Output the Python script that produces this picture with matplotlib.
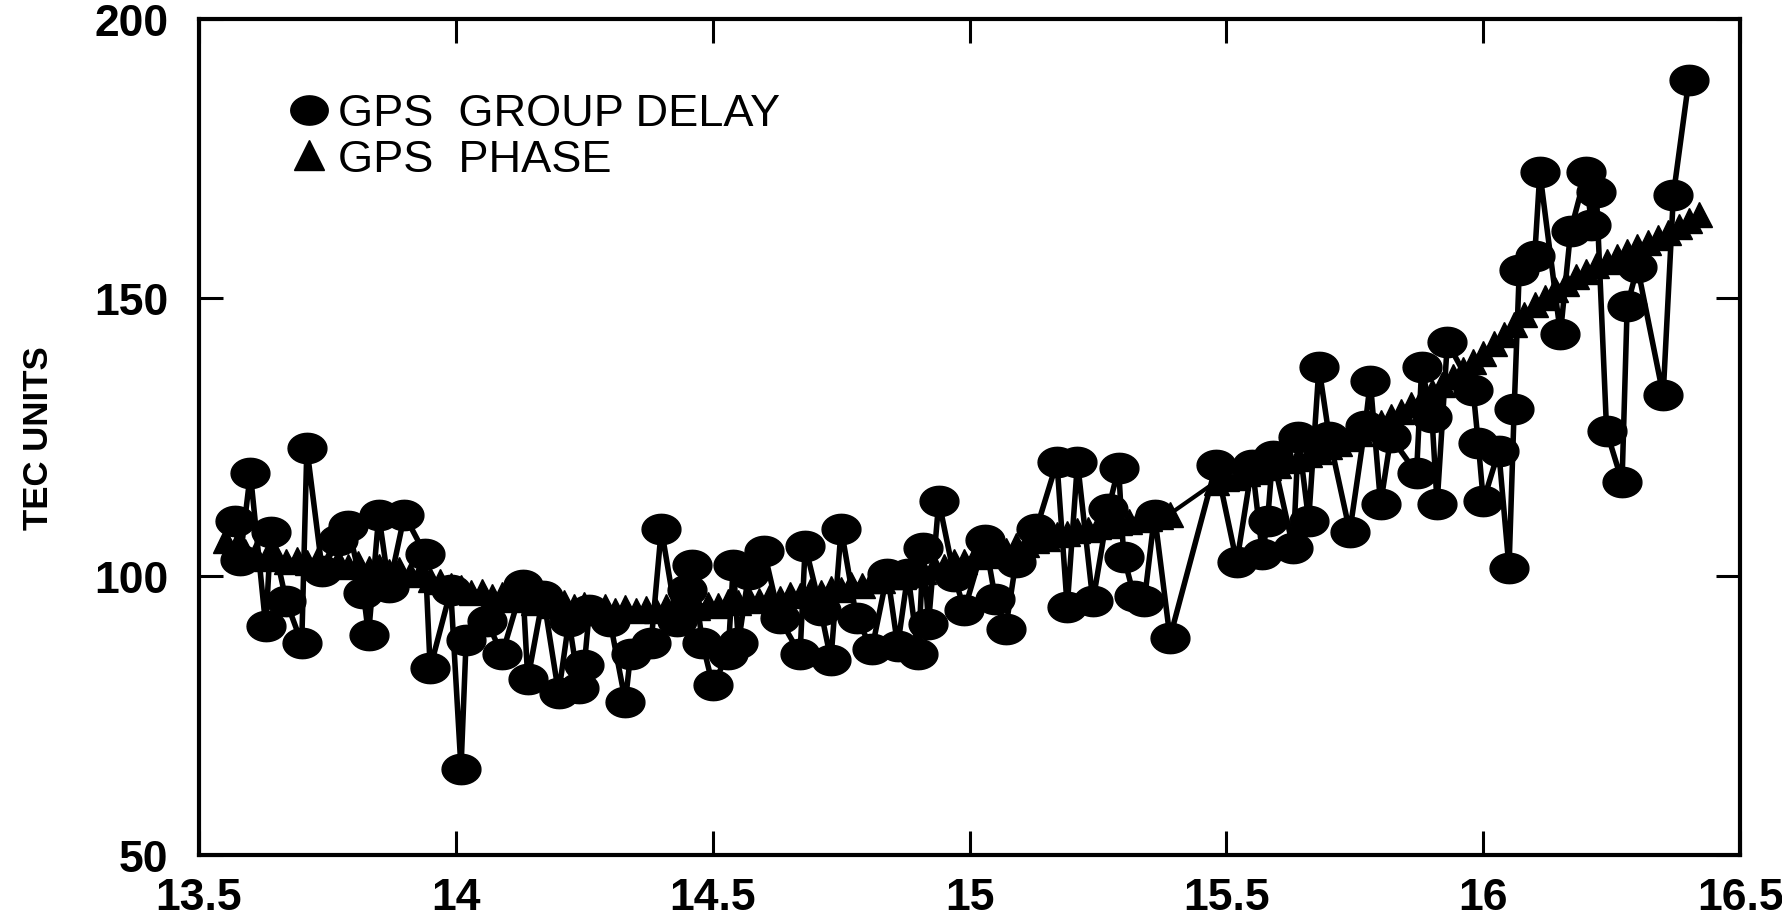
# TEC from GPS group delay and phase - recreated chart

import numpy as np
import matplotlib.pyplot as plt
from matplotlib.lines import Line2D

# group delay samples (hours, TEC units)
delay_time = [13.57, 13.58, 13.60, 13.63, 13.64, 13.67, 13.70, 13.71, 13.74, 13.77,
              13.79, 13.82, 13.83, 13.85, 13.87, 13.90, 13.94, 13.95, 13.99, 14.01,
              14.02, 14.06, 14.09, 14.13, 14.14, 14.17, 14.20, 14.22, 14.24, 14.25,
              14.26, 14.30, 14.33, 14.34, 14.38, 14.40, 14.43, 14.45, 14.46, 14.48,
              14.50, 14.53, 14.54, 14.55, 14.57, 14.60, 14.63, 14.67, 14.68, 14.71,
              14.73, 14.75, 14.78, 14.81, 14.84, 14.86, 14.88, 14.90, 14.91, 14.92,
              14.94, 14.97, 14.99, 15.03, 15.05, 15.07, 15.09, 15.13, 15.17, 15.19,
              15.21, 15.24, 15.27, 15.29, 15.30, 15.32, 15.34, 15.36, 15.39, 15.48,
              15.52, 15.55, 15.57, 15.58, 15.59, 15.63, 15.64, 15.66, 15.68, 15.70,
              15.74, 15.77, 15.78, 15.80, 15.82, 15.87, 15.88, 15.90, 15.91, 15.93,
              15.98, 15.99, 16.00, 16.03, 16.05, 16.06, 16.07, 16.10, 16.11, 16.15,
              16.17, 16.20, 16.21, 16.22, 16.24, 16.27, 16.28, 16.30, 16.35, 16.37,
              16.40]
delay_tec = [110, 103, 118.5, 91, 108, 95.5, 88, 123, 101, 106.5,
             109, 97, 89.5, 111, 98, 111, 104, 83.5, 97.5, 65.5,
             88.5, 92, 86, 98.5, 81.5, 96.5, 79, 92, 80, 84,
             94, 92, 77.5, 86, 88, 108.5, 92, 97.5, 102, 88,
             80.5, 86, 102, 88, 100.5, 104.5, 92.5, 86, 105.5, 94,
             85, 108.5, 92.5, 87, 100.5, 87.5, 100.5, 86, 105, 91.5,
             113.5, 100, 94, 106.5, 96, 90.5, 102.5, 108.5, 120.5, 94.5,
             120.5, 95.5, 112, 119.5, 103.5, 96.5, 95.5, 111, 89, 120,
             102.5, 120, 104, 110, 121.5, 105, 125, 110, 137.5, 125,
             108, 127, 135, 113, 125, 118.5, 137.5, 128.5, 113, 142,
             133.5, 124, 113.5, 122.5, 101.5, 130, 155, 157.5, 172.5, 143.5,
             162, 172.5, 163, 169, 126, 117, 148.5, 155.5, 132.5, 168.5,
             189]

# carrier phase samples (hours, TEC units)
phase_time = [13.55, 13.57, 13.59, 13.61, 13.63, 13.65, 13.67, 13.69, 13.71, 13.73,
              13.75, 13.77, 13.79, 13.81, 13.83, 13.85, 13.87, 13.89, 13.91, 13.93,
              13.95, 13.97, 13.99, 14.01, 14.03, 14.05, 14.07, 14.09, 14.11, 14.13,
              14.15, 14.17, 14.19, 14.21, 14.23, 14.25, 14.27, 14.29, 14.31, 14.33,
              14.35, 14.37, 14.39, 14.41, 14.43, 14.45, 14.47, 14.49, 14.51, 14.53,
              14.55, 14.57, 14.59, 14.61, 14.63, 14.65, 14.67, 14.69, 14.71, 14.73,
              14.75, 14.77, 14.79, 14.81, 14.83, 14.85, 14.87, 14.89, 14.91, 14.93,
              14.95, 14.97, 14.99, 15.01, 15.03, 15.05, 15.07, 15.09, 15.11, 15.13,
              15.15, 15.17, 15.19, 15.21, 15.23, 15.25, 15.27, 15.29, 15.31, 15.33,
              15.35, 15.37, 15.39,
              15.48, 15.50, 15.52, 15.54, 15.56, 15.58, 15.60, 15.62, 15.64, 15.66,
              15.68, 15.70, 15.72, 15.74, 15.76, 15.78, 15.80, 15.82, 15.84, 15.86,
              15.88, 15.90, 15.92, 15.94, 15.96, 15.98, 16.00, 16.02, 16.04, 16.06,
              16.08, 16.10, 16.12, 16.14, 16.16, 16.18, 16.20, 16.22, 16.24, 16.26,
              16.28, 16.30, 16.32, 16.34, 16.36, 16.38, 16.40, 16.42]
phase_tec = [106.5, 105.0, 104.6, 104.0, 103.2, 103.6, 102.8, 103.1, 102.6, 103.0,
             102.2, 102.7, 101.9, 102.3, 101.5, 101.8, 101.0, 101.3, 100.4, 100.6,
             99.6, 99.2, 98.4, 98.0, 97.2, 97.4, 96.5, 96.8, 95.9, 96.2,
             95.4, 95.7, 94.9, 95.3, 94.6, 95.0, 94.3, 94.7, 94.0, 94.5,
             93.9, 94.4, 94.0, 94.6, 94.2, 94.8, 94.5, 95.1, 94.8, 95.5,
             95.3, 95.9, 95.7, 96.3, 96.1, 96.8, 96.6, 97.3, 97.2, 97.9,
             97.8, 98.6, 98.5, 99.3, 99.3, 100.1, 100.1, 100.9, 101.0, 101.8,
             101.9, 102.7, 102.8, 103.6, 103.8, 104.6, 104.8, 105.6, 105.8, 106.6,
             106.8, 107.5, 107.7, 108.3, 108.5, 109.0, 109.2, 109.7, 109.9, 110.3,
             110.5, 110.9, 111.2,
             117.0, 117.6, 117.9, 118.6, 118.9, 119.7, 120.0, 120.8, 121.2, 122.0,
             122.5, 123.3, 124.0, 124.9, 125.7, 126.7, 127.6, 128.7, 129.7, 130.9,
             132.0, 133.3, 134.5, 135.9, 137.2, 138.7, 140.1, 141.8, 143.4, 145.2,
             147.0, 148.9, 150.2, 151.6, 152.7, 153.9, 154.8, 155.8, 156.6, 157.5,
             158.3, 159.2, 160.0, 160.9, 161.8, 162.8, 163.9, 165.0]

x_ticks = [13.5, 14, 14.5, 15, 15.5, 16, 16.5]
x_labels = ['13.5', '14', '14.5', '15', '15.5', '16', '16.5']
y_ticks = [50, 100, 150, 200]

tick_font = ['Liberation Sans Narrow', 'Liberation Sans', 'DejaVu Sans']
text_font = ['Liberation Sans', 'DejaVu Sans']

# slightly flattened blob used for the group delay points
t = np.linspace(0, 2 * np.pi, 41)
blob = list(zip(1.28 * np.cos(t), np.sin(t)))

fig = plt.figure(figsize=(17.83, 9.20), dpi=100)
ax = fig.add_axes([0.1116, 0.0696, 0.8644, 0.9087])

ax.plot(phase_time, phase_tec, color='black', lw=3, marker='^',
        markersize=18, zorder=2)
ax.plot(delay_time, delay_tec, color='black', lw=4, marker=blob,
        markersize=28, zorder=3)

ax.set_xlim(13.5, 16.5)
ax.set_ylim(50, 200)
ax.set_xticks(x_ticks)
ax.set_xticklabels(x_labels)
ax.set_yticks(y_ticks)

for spine in ax.spines.values():
    spine.set_linewidth(3)

ax.tick_params(direction='in', length=17, width=2.2, top=True, right=True,
               labelsize=32)
ax.tick_params(axis='x', pad=16)
ax.tick_params(axis='y', pad=22)
for lab in ax.get_xticklabels() + ax.get_yticklabels():
    lab.set_family(tick_font)
    lab.set_fontweight('bold')

ax.set_ylabel('TEC UNITS', family=text_font, fontweight='bold', fontsize=25,
              labelpad=28)

handles = [Line2D([], [], color='black', marker=blob, markersize=27, linestyle='none'),
           Line2D([], [], color='black', marker='^', markersize=22, linestyle='none')]
ax.legend(handles, ['GPS  GROUP DELAY', 'GPS  PHASE'], loc='upper left',
          bbox_to_anchor=(0.042, 0.938), frameon=False, handlelength=1.0,
          handletextpad=0.15, labelspacing=0.1, borderpad=0,
          prop={'family': text_font, 'size': 32.5, 'weight': 'medium'})

plt.savefig('out.png', dpi=100)
